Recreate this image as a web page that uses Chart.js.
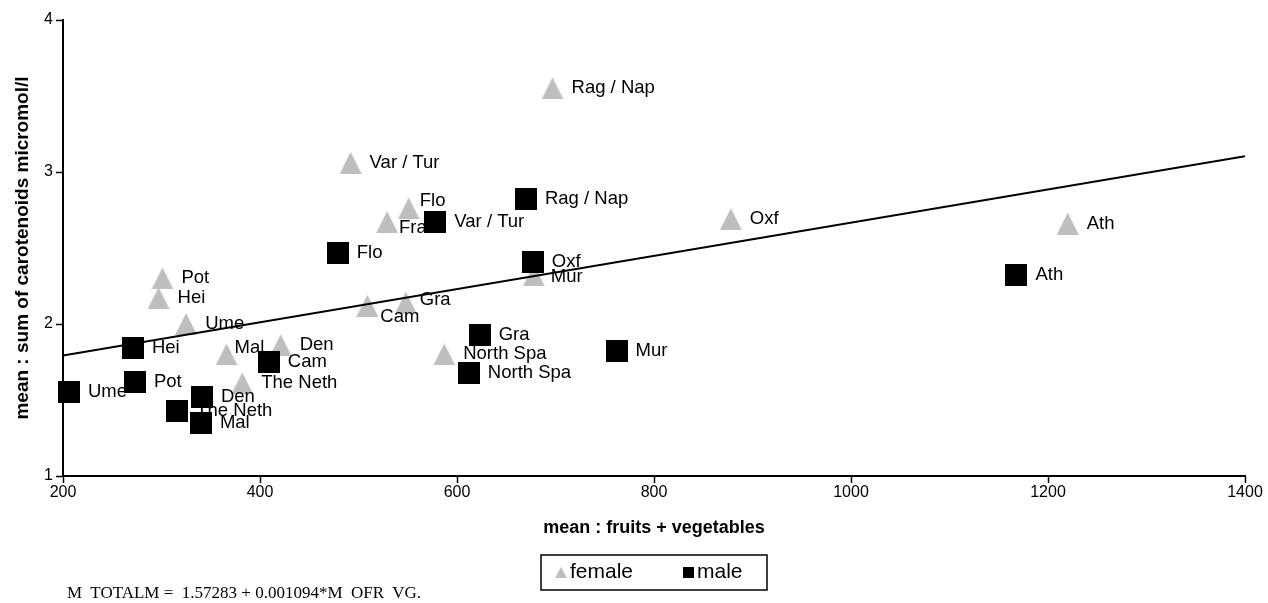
<!DOCTYPE html>
<html>
<head>
<meta charset="utf-8">
<script src="https://cdn.jsdelivr.net/npm/chart.js@4.4.0/dist/chart.umd.min.js"></script>
<style>
  body { margin: 0; background: #fff; }
  #wrap { position: relative; width: 1268px; height: 603px; }
  #note { position: absolute; left: 67px; top: 583px; font: 17px "Liberation Serif", "Times New Roman", serif; white-space: pre; color: #000; line-height: 19px; }
</style>
</head>
<body>
<div id="wrap">
  <canvas id="stage" width="1268" height="603"></canvas>
  <div id="note">M  TOTALM =  1.57283 + 0.001094*M  OFR  VG.</div>
</div>
<script>
// centres (pays / ville) et moyennes
var femaleNames = ['Rag / Nap', 'Var / Tur', 'Flo', 'Fra', 'Oxf', 'Ath', 'Mur', 'Pot', 'Hei', 'Gra', 'Cam', 'Ume', 'Den', 'Mal', 'North Spa', 'The Neth'];
var femaleFruitVeg = [697, 492, 551, 529, 878, 1220, 678, 301, 297, 548, 509, 325, 421, 366, 587, 382];
var femaleCarot = [3.55, 3.06, 2.76, 2.67, 2.69, 2.66, 2.32, 2.30, 2.17, 2.14, 2.12, 2.00, 1.86, 1.80, 1.80, 1.61];

var maleNames = ['Rag / Nap', 'Var / Tur', 'Flo', 'Oxf', 'Ath', 'Gra', 'Mur', 'North Spa', 'Hei', 'Cam', 'Pot', 'Ume', 'Den', 'The Neth', 'Mal'];
var maleFruitVeg = [670, 578, 479, 677, 1168, 623, 762, 612, 271, 409, 273, 206, 341, 316, 340];
var maleCarot = [2.82, 2.67, 2.47, 2.41, 2.32, 1.93, 1.82, 1.68, 1.84, 1.75, 1.62, 1.55, 1.52, 1.43, 1.35];

// droite de régression (extrémités lues)
var fitX = [200, 1400];
var fitY = [1.792, 3.104];

var xTicks = [200, 400, 600, 800, 1000, 1200, 1400];
var yTicks = [1, 2, 3, 4];

var GREY = '#BEBEBE';
Chart.defaults.font.family = '"Liberation Sans", Arial, sans-serif';
Chart.defaults.color = '#000';

// marqueurs centrés sur leur boîte
function triangle(w, h, color) {
  var c = document.createElement('canvas');
  c.width = w; c.height = h;
  var g = c.getContext('2d');
  g.fillStyle = color;
  g.beginPath(); g.moveTo(w / 2, 0); g.lineTo(w, h); g.lineTo(0, h); g.closePath(); g.fill();
  return c;
}
function square(s, color) {
  var c = document.createElement('canvas');
  c.width = s; c.height = s;
  var g = c.getContext('2d');
  g.fillStyle = color;
  g.fillRect(0, 0, s, s);
  return c;
}

function pts(xs, ys) {
  return xs.map(function (x, i) { return { x: x, y: ys[i] }; });
}

var pointLabels = {
  id: 'pointLabels',
  afterDatasetsDraw: function (chart, args, o) {
    var ctx = chart.ctx;
    ctx.save();
    ctx.font = o.font;
    ctx.fillStyle = '#000';
    ctx.textBaseline = 'middle';
    ctx.textAlign = 'left';
    chart.data.datasets.forEach(function (ds, i) {
      if (!ds.names) return;
      chart.getDatasetMeta(i).data.forEach(function (p, j) {
        var n = (o.nudge[ds.label] || {})[ds.names[j]] || {};
        ctx.fillText(ds.names[j], p.x + o.offset + (n.dx || 0), p.y + (n.dy || 0));
      });
    });
    ctx.restore();
  }
};

var boxLegend = {
  id: 'boxLegend',
  afterDraw: function (chart, args, o) {
    var ctx = chart.ctx;
    var a = chart.chartArea;
    var left = (a.left + a.right) / 2 - o.width / 2;
    var my = o.top + o.height / 2;
    ctx.save();
    ctx.strokeStyle = '#000';
    ctx.lineWidth = 1.5;
    ctx.strokeRect(left, o.top, o.width, o.height);
    ctx.font = o.font;
    ctx.fillStyle = '#000';
    ctx.textBaseline = 'middle';
    o.items.forEach(function (it) {
      var ds = chart.data.datasets.filter(function (d) { return d.label === it.label; })[0];
      var m = ds.legendMarker;
      ctx.drawImage(m, left + it.markerX - m.width / 2, my - m.height / 2);
      ctx.fillText(ds.label, left + it.textX, my);
    });
    ctx.restore();
  }
};

new Chart(document.getElementById('stage'), {
  type: 'scatter',
  data: {
    datasets: [
      {
        label: 'fit',
        data: pts(fitX, fitY),
        showLine: true,
        borderColor: '#000',
        borderWidth: 2,
        pointRadius: 0,
        order: 0
      },
      {
        label: 'male',
        names: maleNames,
        data: pts(maleFruitVeg, maleCarot),
        pointStyle: square(22, '#000'),
        legendMarker: square(11, '#000'),
        pointRadius: 11,
        clip: false,
        order: 1
      },
      {
        label: 'female',
        names: femaleNames,
        data: pts(femaleFruitVeg, femaleCarot),
        pointStyle: triangle(22, 22, GREY),
        legendMarker: triangle(12, 11, GREY),
        pointRadius: 11,
        clip: false,
        order: 2
      }
    ]
  },
  options: {
    responsive: false,
    animation: false,
    layout: { padding: { top: 20, right: 23, left: 0, bottom: 0 } },
    scales: {
      x: {
        type: 'linear',
        min: 200, max: 1400,
        afterBuildTicks: function (s) { s.ticks = xTicks.map(function (v) { return { value: v }; }); },
        ticks: { font: { size: 16 }, padding: 0, maxRotation: 0, callback: function (v) { return String(v); } },
        grid: { drawOnChartArea: false, color: '#000', tickLength: 7, tickWidth: 1.5 },
        border: { color: '#000', width: 2 },
        title: { display: true, text: 'mean : fruits + vegetables', font: { size: 18, weight: 'bold' }, padding: { top: 0, bottom: 64 } },
        afterFit: function (s) { s.height = 127; }
      },
      y: {
        type: 'linear',
        min: 1, max: 4,
        afterBuildTicks: function (s) { s.ticks = yTicks.map(function (v) { return { value: v }; }); },
        ticks: { font: { size: 16 }, padding: 3, callback: function (v) { return String(v); } },
        grid: { drawOnChartArea: false, color: '#000', tickLength: 7, tickWidth: 1.5 },
        border: { color: '#000', width: 2 },
        title: { display: true, text: 'mean : sum of carotenoids micromol/l', font: { size: 19, weight: 'bold' }, padding: { top: 11, bottom: 0 } },
        afterFit: function (s) { s.width = 63; }
      }
    },
    plugins: {
      legend: { display: false },
      tooltip: { enabled: false },
      pointLabels: {
        font: '18.5px "Liberation Sans", Arial, sans-serif',
        offset: 19,
        nudge: {
          female: {
            'Flo': { dx: -8, dy: -8 },
            'Fra': { dx: -7, dy: 6 },
            'Gra': { dx: -5, dy: -3 },
            'Cam': { dx: -6, dy: 11 },
            'Mal': { dx: -11, dy: -6 },
            'Mur': { dx: -2, dy: 2 }
          }
        }
      },
      boxLegend: {
        top: 555, width: 226, height: 35,
        font: '21px "Liberation Sans", Arial, sans-serif',
        items: [
          { label: 'female', markerX: 20, textX: 29 },
          { label: 'male', markerX: 147, textX: 156 }
        ]
      }
    }
  },
  plugins: [pointLabels, boxLegend]
});
</script>
</body>
</html>
